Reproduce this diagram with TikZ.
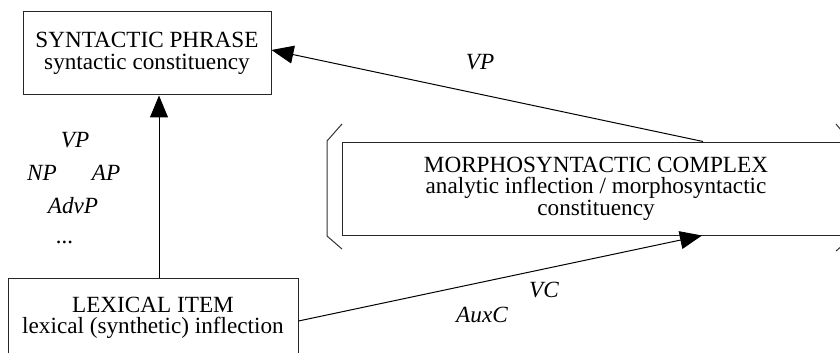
\documentclass[tikz,border=0pt]{standalone}
\usepackage{fontspec}
\setmainfont{Liberation Serif}
\usetikzlibrary{arrows.meta,calc}
\begin{document}
\begin{tikzpicture}[x=0.5pt,y=-0.5pt,
  box/.style={draw=black!85, line width=0.5pt, align=center, inner sep=0pt,
    font=\fontsize{11.6}{10.8}\selectfont},
  lab/.style={font=\fontsize{11.6}{13}\selectfont\itshape, anchor=base, inner sep=0pt},
  arr/.style={draw=black, line width=0.5pt, -{Triangle[length=11pt,width=9pt]}},
  brk/.style={draw=black!80, line width=0.5pt}]
\useasboundingbox (0,0) rectangle (840,353);
\clip (0,0) rectangle (840,353);

% the three levels
\node[box, minimum width=124pt, minimum height=41.5pt] (syn) at (147,53.5)
  {SYNTACTIC PHRASE\\syntactic constituency};
\node[box, minimum width=145pt, minimum height=40pt] (lex) at (153,318)
  {LEXICAL ITEM\\lexical (synthetic) inflection};
\node[box, minimum width=254pt, minimum height=46.5pt] (mcx) at (596,188.5)
  {MORPHOSYNTACTIC COMPLEX\\analytic inflection / morphosyntactic\\constituency};

% brackets round the complex
\draw[brk] (342,124) -- (327,141) -- (327,236) -- (342,249);
\draw[brk] (836,124) -- (851,142) -- (851,238) -- (836,251);

% helper positions for the connectors
\coordinate (vx) at (159,0);
\coordinate (vpx) at (703,0);
\coordinate (vpy) at (0,50);
\coordinate (vcx) at (702,0);
\coordinate (vcy) at (0,321);

\draw[arr] (lex.north -| vx) -- (syn.south -| vx);
\draw[arr] (mcx.north -| vpx) -- (syn.east |- vpy);
\draw[arr] (lex.east |- vcy) -- (mcx.south -| vcx);

% category labels
\node[lab] (vpa) at (480,70) {VP};
\node[lab] (vc) at (544,297) {VC};
\node[lab] (auxc) at (482,322) {AuxC};
\node[lab] (vpb) at (75,148) {VP};
\node[lab] (np) at (42,180) {NP};
\node[lab] (ap) at (106,180) {AP};
\node[lab] (advp) at (73,213) {AdvP};
\node[lab] (dots) at (65,243) {...};
\end{tikzpicture}
\end{document}
